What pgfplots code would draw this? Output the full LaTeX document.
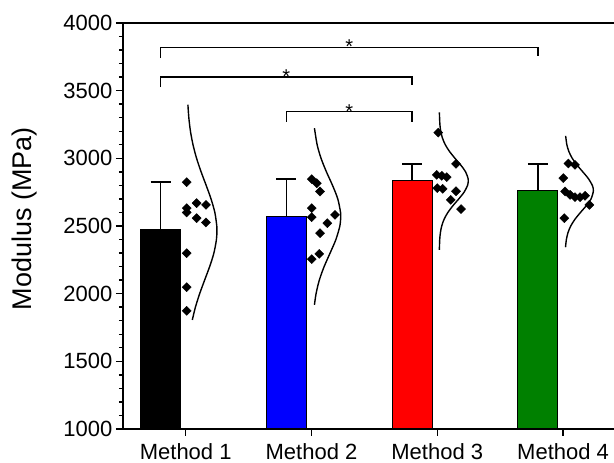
\documentclass[border=0pt]{standalone}
\usepackage{fontspec}
\setmainfont{Liberation Sans}
\usepackage{pgfplots}
\pgfplotsset{compat=1.18}
\definecolor{mgreen}{RGB}{0,128,0}

% scatter points of each method (x slightly right of the category)
\pgfplotstableread{
x      y
1.008  2824
1.087  2669
1.161  2656
1.008  2632
1.008  2600
1.087  2558
1.161  2526
1.008  2299
1.008  2048
1.008  1873
2.002  2846
2.042  2816
2.068  2755
2.002  2632
2.002  2565
2.187  2582
2.126  2521
2.068  2447
2.062  2294
2.002  2255
3.008  3190
3.149  2959
2.996  2878
3.036  2871
3.075  2861
3.000  2780
3.043  2775
3.149  2757
3.107  2693
3.189  2625
4.042  2962
4.095  2952
4.002  2854
4.016  2755
4.056  2730
4.095  2713
4.135  2713
4.175  2723
4.209  2656
4.010  2558
}\points

\begin{document}
\begin{tikzpicture}
\begin{axis}[
  scale only axis,
  width=491.2pt, height=406pt,
  xmin=0.5, xmax=4.405, ymin=1000, ymax=4000,
  axis x line=box, axis y line=left,
  axis line style={-, line width=1.6pt},
  xtick={1,2,3,4},
  xticklabels={Method 1, Method 2, Method 3, Method 4},
  xtick pos=bottom, ytick pos=left,
  ytick={1000,1500,...,4000},
  minor y tick num=4,
  tick align=outside,
  major tick length=7pt, minor tick length=4pt,
  every tick/.style={black, line width=1.4pt},
  tick label style={font=\fontsize{22}{26}\selectfont},
  xticklabel style={yshift=-4pt},
  /pgf/number format/assume math mode=true,
  /pgf/number format/1000 sep={},
  ylabel={Modulus (MPa)},
  ylabel style={font=\fontsize{27}{32}\selectfont, at={(axis description cs:-0.1857,0.518)}, anchor=base},
  error bars/error bar style={line width=1.4pt, black},
  error bars/error mark options={rotate=90, mark size=10pt, line width=1.4pt, black},
]
% bars with upper error bars
\addplot[ybar, bar width=0.318, fill=black, draw=black, line width=1.2pt,
  error bars/.cd, y dir=plus, y explicit] coordinates {(0.8,2470) +- (0,354)};
\addplot[ybar, bar width=0.318, fill=blue, draw=black, line width=1.2pt,
  error bars/.cd, y dir=plus, y explicit] coordinates {(1.8,2570) +- (0,276)};
\addplot[ybar, bar width=0.318, fill=red, draw=black, line width=1.2pt,
  error bars/.cd, y dir=plus, y explicit] coordinates {(2.8,2834) +- (0,125)};
\addplot[ybar, bar width=0.318, fill=mgreen, draw=black, line width=1.2pt,
  error bars/.cd, y dir=plus, y explicit] coordinates {(3.8,2760) +- (0,199)};

% raw points
\addplot[only marks, mark=square*, mark size=3.2pt, mark options={rotate=45, black, fill=black}] table[x=x, y=y] {\points};

% distribution curves
\addplot[smooth, line width=1.4pt, black] coordinates {
(1.0176,3396) (1.0250,3300) (1.0379,3200) (1.0582,3100) (1.0866,3000)
(1.1226,2900) (1.1629,2800) (1.2015,2700) (1.2318,2600) (1.2473,2500)
(1.2485,2465) (1.2444,2400) (1.2242,2300) (1.1905,2200) (1.1505,2100)
(1.1111,2000) (1.0773,1900) (1.0527,1806)};
\addplot[smooth, line width=1.4pt, black] coordinates {
(2.0236,3223) (2.0452,3100) (2.0761,3000) (2.1189,2900) (2.1674,2800)
(2.2092,2700) (2.2313,2600) (2.2326,2570) (2.2255,2500) (2.1941,2400)
(2.1480,2300) (2.1006,2200) (2.0623,2100) (2.0365,2000) (2.0236,1917)};
\addplot[smooth, line width=1.4pt, black] coordinates {
(3.0168,3339) (3.0209,3250) (3.0278,3200) (3.0411,3150) (3.0640,3100)
(3.0979,3050) (3.1410,3000) (3.1871,2950) (3.2254,2900) (3.2452,2850)
(3.2466,2834) (3.2408,2800) (3.2132,2750) (3.1707,2700) (3.1246,2650)
(3.0843,2600) (3.0545,2550) (3.0354,2500) (3.0248,2450) (3.0195,2400)
(3.0167,2324)};
\addplot[smooth, line width=1.4pt, black] coordinates {
(4.0205,3166) (4.0304,3100) (4.0464,3050) (4.0732,3000) (4.1114,2950)
(4.1571,2900) (4.2016,2850) (4.2327,2800) (4.2410,2760) (4.2226,2700)
(4.1848,2650) (4.1384,2600) (4.0948,2550) (4.0610,2500) (4.0390,2450)
(4.0264,2400) (4.0196,2343)};

% significance brackets
\addplot[black, line width=1.4pt] coordinates {(0.8,3741) (0.8,3819) (3.8,3819) (3.8,3758)};
\addplot[black, line width=1.4pt] coordinates {(0.8,3527) (0.8,3600) (2.8,3600) (2.8,3544)};
\addplot[black, line width=1.4pt] coordinates {(1.8,3272) (1.8,3346) (2.8,3346) (2.8,3272)};
\node[anchor=base, inner sep=0pt, font=\fontsize{20}{24}\selectfont, yshift=-6.5pt] at (axis cs:2.3,3819) {*};
\node[anchor=base, inner sep=0pt, font=\fontsize{20}{24}\selectfont, yshift=-6.5pt] at (axis cs:1.8,3600) {*};
\node[anchor=base, inner sep=0pt, font=\fontsize{20}{24}\selectfont, yshift=-6.5pt] at (axis cs:2.3,3346) {*};
\end{axis}
\pgfresetboundingbox
\path (-122.8pt,-34pt) rectangle (491.2pt,429pt);
\end{tikzpicture}
\end{document}
